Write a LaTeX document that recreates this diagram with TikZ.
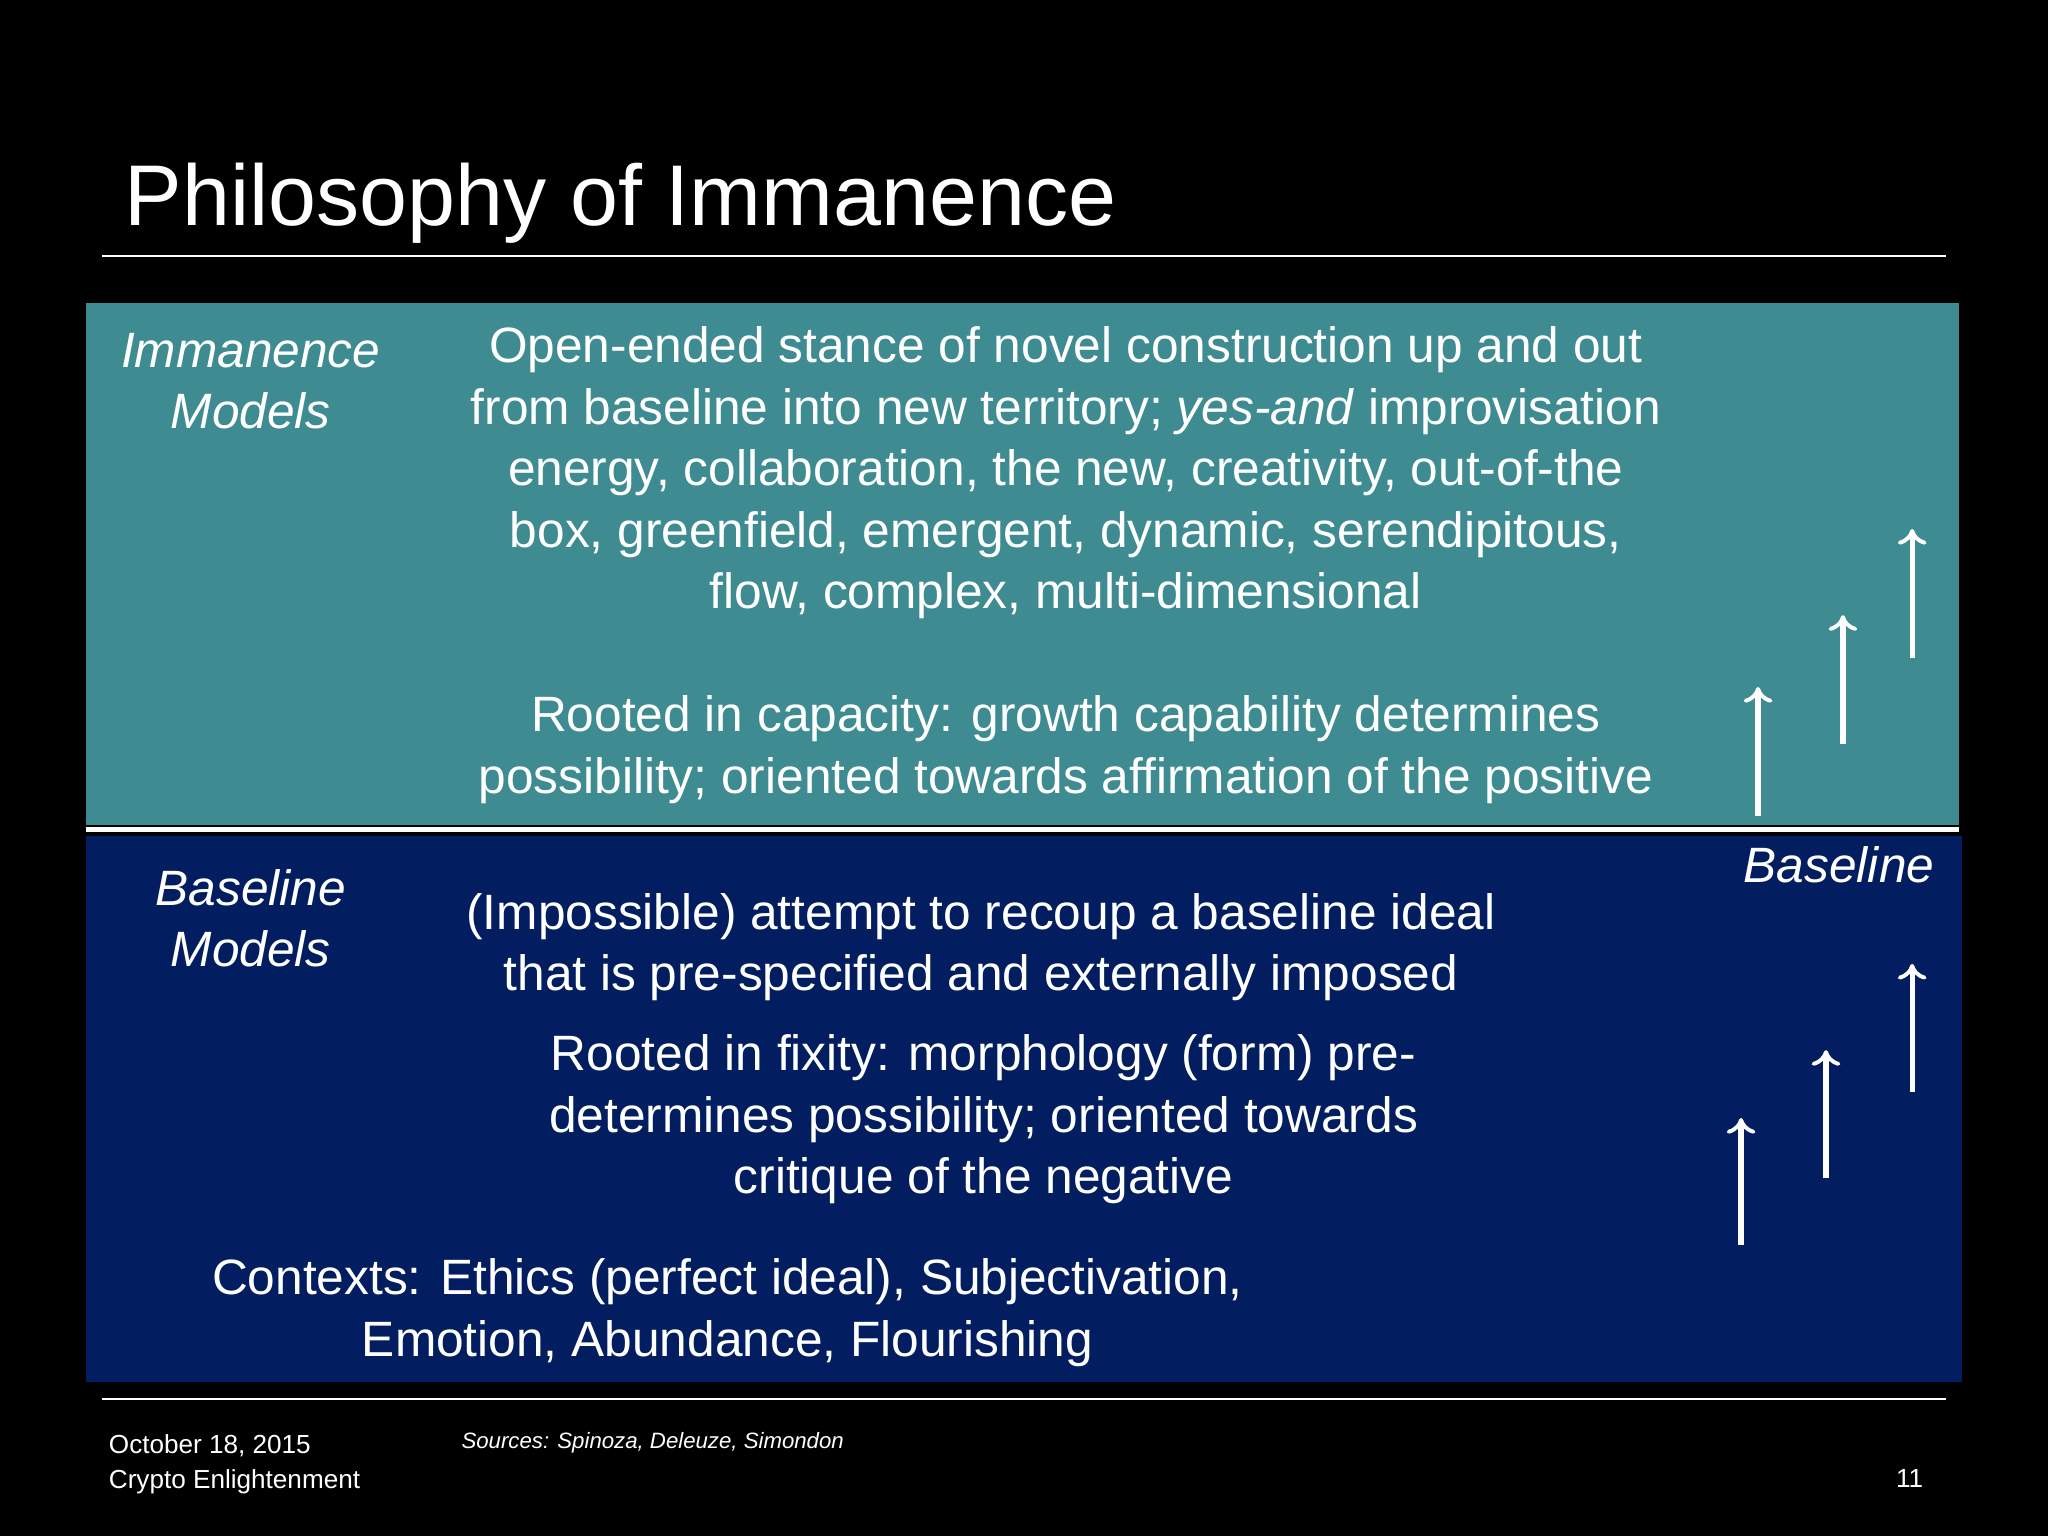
\documentclass[tikz,border=0pt]{standalone}
\usepackage{fontspec}
\setmainfont{Liberation Sans}
\usetikzlibrary{arrows.meta}
\definecolor{tealbg}{RGB}{62,140,146}
\definecolor{navybg}{RGB}{2,30,96}
\tikzset{
 body/.style={text=white,align=center,font=\fontsize{19pt}{23.5pt}\selectfont,inner sep=0},
 side/.style={body,font=\fontsize{19pt}{23.5pt}\selectfont\itshape},
 foot/.style={text=white,align=left,font=\fontsize{10pt}{13.5pt}\selectfont,inner sep=0},
 uparrow/.style={white,line width=2pt,-{To[length=6pt,width=11pt,line width=1.5pt]}},
 rule/.style={white,line width=0.6pt}
}
\begin{document}
\begin{tikzpicture}[x=0.5pt,y=-0.5pt]
\fill[black] (0,0) rectangle (1568,1176);
\node[anchor=base west,text=white,font=\fontsize{33pt}{38pt}\selectfont,inner sep=0] (title) at (95,173) {Philosophy of Immanence};
\draw[rule] (78,196) -- (1490,196);
\fill[tealbg] (66,232) rectangle (1500,632);
\draw[white,line width=2pt] (66,635) -- (1500,635);
\fill[navybg] (66,640) rectangle (1502,1058);
\draw[rule] (78,1071) -- (1490,1071);
\node[side] (im) at (192,292) {Immanence\\Models};
\node[body] (t1) at (816,362) {Open-ended stance of novel construction up and out\\from baseline into new territory; \textit{yes-and} improvisation\\energy, collaboration, the new, creativity, out-of-the\\box, greenfield, emergent, dynamic, serendipitous,\\flow, complex, multi-dimensional};
\node[body] (t2) at (816,574) {Rooted in capacity: growth capability determines\\possibility; oriented towards affirmation of the positive};
\node[side] (bm) at (192,703) {Baseline\\Models};
\node[side] (bl) at (1408,662) {Baseline};
\node[body] (t3) at (751,725) {(Impossible) attempt to recoup a baseline ideal\\that is pre-specified and externally imposed};
\node[body] (t4) at (753,857) {Rooted in fixity: morphology (form) pre-\\determines possibility; oriented towards\\critique of the negative};
\node[body] (t5) at (557,1005) {Contexts: Ethics (perfect ideal), Subjectivation,\\Emotion, Abundance, Flourishing};
\coordinate (a1s) at (1346,625); \coordinate (a1e) at (1346,526);
\coordinate (a2s) at (1411,570); \coordinate (a2e) at (1411,471);
\coordinate (a3s) at (1464,504); \coordinate (a3e) at (1464,405);
\coordinate (b1s) at (1333,953); \coordinate (b1e) at (1333,856);
\coordinate (b2s) at (1398,902); \coordinate (b2e) at (1398,804);
\coordinate (b3s) at (1464,836); \coordinate (b3e) at (1464,738);
\foreach \p in {a1,a2,a3,b1,b2,b3} \draw[uparrow] (\p s) -- (\p e);
\node[foot,anchor=north west] (f1) at (83,1098) {October 18, 2015\\Crypto Enlightenment};
\node[foot,anchor=north west,font=\fontsize{8.5pt}{10pt}\selectfont\itshape] (src) at (353,1096) {Sources: Spinoza, Deleuze, Simondon};
\node[foot] (pg) at (1462,1132) {11};
\end{tikzpicture}
\end{document}
